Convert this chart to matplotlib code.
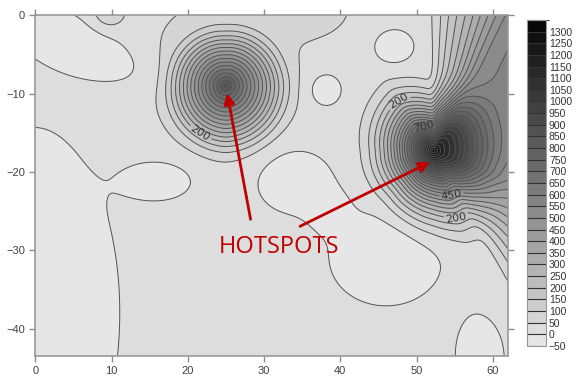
import numpy as np
import matplotlib
matplotlib.use("Agg")
from matplotlib import pyplot as plt
from matplotlib.colors import ListedColormap, BoundaryNorm

# contour levels / colorbar labels
levels = list(range(-50, 1400, 50))
tick_levels = list(range(-50, 1350, 50))
x_ticks = [0, 10, 20, 30, 40, 50, 60]
y_ticks = [0, -10, -20, -30, -40]

background = 20

# hotspots: centre, peak above background, profile exponent
hot_x = [25.0, 52.2]
hot_y = [-9.0, -17.3]
hot_peak = [800, 1330]
hot_power = [1, 2]
# reach of each hotspot by direction (degrees from east, counter-clockwise)
hot1_angle = [0, 90, 180, 270]
hot1_radius = [8.4, 7.4, 8.0, 8.8]
hot2_angle = [-90, -70, -45, 0, 45, 90, 125, 180, 225]
hot2_radius = [13, 14.5, 13, 12, 12, 10, 12.5, 11, 11]
# level of the wide fan that opens east / north-east of the right hotspot
fan_angle = [-100, -75, -60, -53, -49, -38, -21, 0, 37, 50, 60, 67, 74, 81, 86, 89, 93, 180]
fan_level = [0, 0, 15, 120, 180, 330, 480, 540, 580, 560, 520, 400, 270, 170, 95, 45, 0, 0]

# smaller bumps and dips of the background field
bump_x = [0.0, 16.5, 24.0, 9.5, 6.0, 37.0, 47.0, 38.0, 33.8, 46.0, 38.5, 58.5]
bump_y = [-38.0, -21.0, -6.0, 0.3, -4.0, 1.0, -4.0, -9.5, -21.0, -31.0, -25.0, -43.5]
bump_amp = [-70, -45, 55, 60, -65, 45, -60, -60, -55, -50, -25, -50]
bump_sx = [7.0, 3.5, 7.5, 1.6, 7.0, 4.0, 1.8, 1.6, 3.6, 5.5, 2.0, 2.5]
bump_sy = [15.0, 2.0, 7.0, 1.6, 2.3, 3.0, 1.5, 1.6, 3.0, 4.5, 2.0, 4.0]
bump_angle = [0, 0, 0, 0, -22, 0, 0, 0, 0, 0, 0, 0]

# contour labels: level -> positions
label_pos = {
    200: [(21.5, -15.3), (47.8, -11.2), (55.4, -27.1)],
    450: [(55.1, -23.9)],
    700: [(50.9, -14.0)],
}


def by_direction(theta, angles, values, smooth=2.5):
    # value as a function of direction, lightly smoothed round the circle
    fine = np.arange(0, 360, 0.5)
    v = np.interp(fine, np.mod(angles, 360), values, period=360)
    k = np.exp(-0.5 * (np.arange(-12, 12.5, 0.5) / smooth) ** 2)
    k /= k.sum()
    v = np.convolve(np.concatenate([v[-24:], v, v[:24]]), k, mode="same")[24:-24]
    return np.interp(np.mod(theta, 360), fine, v, period=360)


def field(X, Y):
    Z = np.full_like(X, float(background))
    w = 0.1
    tables = [(hot1_angle, hot1_radius), (hot2_angle, hot2_radius)]
    for i in range(len(hot_x)):
        dx = X - hot_x[i]
        dy = Y - hot_y[i]
        d = np.hypot(dx, dy)
        theta = np.degrees(np.arctan2(dy, dx))
        r = d / by_direction(theta, *tables[i])
        s = np.log1p(np.exp((1 - r) / w)) / np.log1p(np.exp(1 / w))
        Z += hot_peak[i] * s ** hot_power[i]
        if i == 1:
            Z += by_direction(theta, fan_angle, fan_level) * d ** 2 / (d ** 2 + 9.0)
    for i in range(len(bump_x)):
        a = np.radians(bump_angle[i])
        dx = X - bump_x[i]
        dy = Y - bump_y[i]
        u = dx * np.cos(a) + dy * np.sin(a)
        v = -dx * np.sin(a) + dy * np.cos(a)
        Z += bump_amp[i] * np.exp(-0.5 * ((u / bump_sx[i]) ** 2 + (v / bump_sy[i]) ** 2))
    return np.clip(Z, levels[0] + 1, levels[-1] - 1)


xs = np.linspace(0, 62, 500)
ys = np.linspace(-43.5, 0, 360)
X, Y = np.meshgrid(xs, ys)
Z = field(X, Y)

n = len(levels) - 1
grays = np.linspace(0.90, 0.03, n)
cmap = ListedColormap([(g, g, g) for g in grays])
norm = BoundaryNorm(levels, n)

fig = plt.figure(figsize=(5.78, 3.78), dpi=100)
ax = fig.add_axes([0.061, 0.058, 0.818, 0.902])
cax = fig.add_axes([0.912, 0.085, 0.033, 0.862])

line_kw = dict(colors="0.33", linewidths=0.7)
cf = ax.contourf(X, Y, Z, levels=levels, cmap=cmap, norm=norm)
plain = [l for l in levels if l not in label_pos]
ax.contour(X, Y, Z, levels=plain, **line_kw)
for lev, pos in label_pos.items():
    cl = ax.contour(X, Y, Z, levels=[lev], **line_kw)
    ax.clabel(cl, manual=pos, fmt="%d", fontsize=8, colors="0.2",
              inline=True, inline_spacing=2)

ax.set_xlim(0, 62)
ax.set_ylim(-43.5, 0)
ax.set_xticks(x_ticks)
ax.set_yticks(y_ticks)
ax.tick_params(direction="out", length=4, color="0.55", labelsize=8,
               labelcolor="0.25", top=True, right=True, width=1)
for s in ax.spines.values():
    s.set_color("0.6")
    s.set_linewidth(1.2)
for lab in ax.get_xticklabels() + ax.get_yticklabels():
    lab.set_family("Liberation Sans")

cb = fig.colorbar(cf, cax=cax, ticks=tick_levels)
cb.add_lines(levels=levels, colors=["0.2"] * len(levels), linewidths=[0.8] * len(levels))
cb.outline.set_edgecolor("0.6")
cax.tick_params(length=0, labelsize=7.5, labelcolor="0.2", pad=2)
for lab in cax.get_yticklabels():
    lab.set_family("Liberation Sans")

red = "#c00000"
ax.text(32.0, -29.6, "HOTSPOTS", color=red, fontsize=17, family="Open Sans",
        ha="center", va="center")
ax.annotate("", xy=(25.1, -9.6), xytext=(28.3, -26.4),
            arrowprops=dict(arrowstyle="-|>", color=red, lw=2, mutation_scale=16))
ax.annotate("", xy=(52.1, -18.6), xytext=(34.4, -27.1),
            arrowprops=dict(arrowstyle="-|>", color=red, lw=2, mutation_scale=16))

fig.savefig("out.png", dpi=100)
